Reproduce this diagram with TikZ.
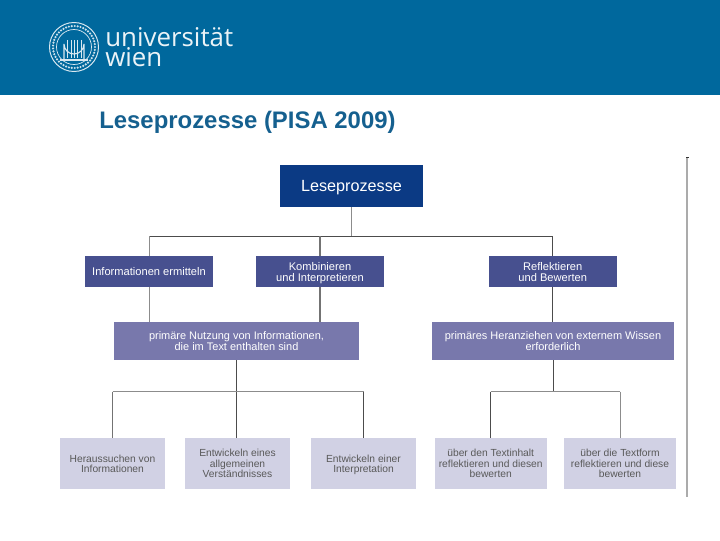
\documentclass[tikz,border=0pt]{standalone}
\usepackage{fontspec}
\setmainfont{Liberation Sans}
\setsansfont{Liberation Sans}
\newfontfamily\logofont{Open Sans}
\usetikzlibrary{positioning, calc}
\definecolor{headblue}{HTML}{00689D}
\definecolor{titleblue}{HTML}{15608F}
\definecolor{rootblue}{HTML}{0B3A84}
\definecolor{procblue}{HTML}{47508F}
\definecolor{midblue}{HTML}{7878AC}
\definecolor{lowblue}{HTML}{D1D1E4}

\begin{document}
\begin{tikzpicture}[
  x=0.025cm, y=-0.025cm,
  font=\sffamily,
  rootbox/.style={fill=rootblue, text=white, align=center, inner sep=0pt, text depth=0pt,
    minimum width=3.58cm, minimum height=1.05cm, font=\sffamily\fontsize{11.5}{13}\selectfont},
  procbox/.style={fill=procblue, text=white, align=center, inner sep=0pt, text depth=0pt,
    minimum width=3.2cm, minimum height=0.77cm, font=\sffamily\fontsize{7.9}{7.8}\selectfont},
  midbox/.style={fill=midblue, text=white, align=center, inner sep=0pt, text depth=0pt,
    minimum height=0.95cm, font=\sffamily\fontsize{7.8}{7.8}\selectfont},
  lowbox/.style={fill=lowblue, text=black!65, align=center, inner sep=0pt, text depth=0pt,
    minimum height=1.28cm, font=\sffamily\fontsize{7.3}{7.4}\selectfont},
  logotext/.style={anchor=west, align=left, inner sep=0pt, text=white!92!headblue, font=\logofont\fontsize{18.4}{13.5}\selectfont},
  link/.style={draw=black!70, line width=0.7pt},
  pale/.style={draw=black!45, line width=0.7pt},
  heavy/.style={draw=black!55, line width=1.2pt}
]
\useasboundingbox (0,0) rectangle (720,540);

% header band and logo
\fill[headblue] (0,0) rectangle (720,95);
\draw[white!85!headblue, line width=0.7pt] (74,47) circle (24.5);
\draw[white!85!headblue, line width=0.5pt] (74,47) circle (17.5);
\foreach \a in {0,8,...,352}
  \fill[white!80!headblue] ($(74,47)+(\a:21)$) circle (1.2);
\draw[white!85!headblue, line width=0.8pt] (64,60) -- (64,44) arc[start angle=180, end angle=0, radius=10] -- (84,60);
\draw[white!85!headblue, line width=0.8pt] (60,60) -- (88,60);
\foreach \x in {67,71,74,77,81}
  \draw[white!85!headblue, line width=0.7pt] (\x,58) -- (\x,40);
\node[logotext] (logo) at (105,47) {universität\\wien};

% title
\node[anchor=base west, inner sep=0pt, text=titleblue, font=\sffamily\fontsize{17}{19}\selectfont] (title) at (99,128.5) {\textbf{Leseprozesse (PISA 2009)}};

% the boxes
\node[rootbox] (root) at (351.5,186) {Leseprozesse};

\node[procbox] (info) at (149,271.5) {Informationen ermitteln};
\node[procbox] (komb) at (320,271.5) {Kombinieren\\und Interpretieren};
\node[procbox] (refl) at (552.7,271.5) {Reflektieren\\und Bewerten};

\node[midbox, minimum width=6.12cm] (prim1) at (236.5,341) {primäre Nutzung von Informationen,\\die im Text enthalten sind};
\node[midbox, minimum width=6.05cm] (prim2) at (553,341) {primäres Heranziehen von externem Wissen\\erforderlich};

\node[lowbox, minimum width=2.63cm] (such) at (112.5,463.5) {Heraussuchen von\\Informationen};
\node[lowbox, minimum width=2.63cm] (allg) at (237.5,463.5) {Entwickeln eines\\allgemeinen\\Verständnisses};
\node[lowbox, minimum width=2.63cm] (intp) at (363.5,463.5) {Entwickeln einer\\Interpretation};
\node[lowbox, minimum width=2.8cm] (tinh) at (490.7,463.5) {über den Textinhalt\\reflektieren und diesen\\bewerten};
\node[lowbox, minimum width=2.8cm] (tfor) at (620,463.5) {über die Textform\\reflektieren und diese\\bewerten};

% the tree
\coordinate (hub) at (351.5,236.3);
\coordinate (hubL) at (149,236.3);
\coordinate (hubR) at (552.7,236.3);
\coordinate (lowL) at (236.5,391.5);
\coordinate (lowR) at (553,391.5);

\draw[pale] (root) -- (hub);
\draw[link] (hubL) -- (hubR);
\draw[pale] (hubL) -- (info);
\draw[heavy] (komb |- hubL) -- (komb);
\draw[link] (hubR) -- (refl);
\draw[pale] (info) -- (info |- prim1.north);
\draw[heavy] (komb) -- (komb |- prim1.north);
\draw[link] (refl) -- (refl |- prim2.north);

\draw[link] (prim1) -- (lowL);
\draw[pale] (such |- lowL) -- (intp |- lowL);
\draw[heavy] (such |- lowL) -- (such);
\draw[link] (lowL) -- (allg.north -| lowL);
\draw[link] (intp |- lowL) -- (intp);

\draw[link] (prim2) -- (lowR);
\draw[pale] (tinh |- lowR) -- (tfor |- lowR);
\draw[link] (tinh |- lowR) -- (tinh);
\draw[pale] (tfor |- lowR) -- (tfor);

% rule at the right
\draw[draw=black!33, line width=1.8pt] (687,158) -- (687,497);
\draw[draw=black!80, line width=0.5pt] (686,157.3) -- (689,157.3);
\end{tikzpicture}
\end{document}
